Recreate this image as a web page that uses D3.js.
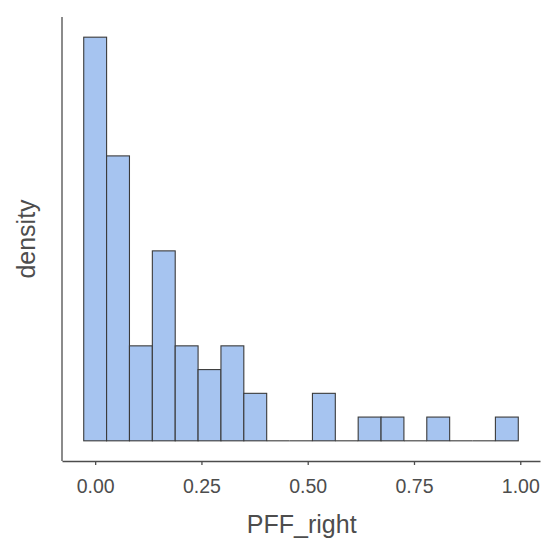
<!DOCTYPE html>
<html>
<head>
<meta charset="utf-8">
<script src="https://cdn.jsdelivr.net/npm/d3@7"></script>
<style>
  body { margin: 0; background: #fff; }
  svg text { font-family: "Liberation Sans", Arial, sans-serif; }
</style>
</head>
<body>
<svg id="drawing_region"></svg>
<script>
// histogram counts per bin
const counts = [17, 12, 4, 8, 4, 3, 4, 2, 0, 0, 2, 0, 1, 1, 0, 1, 0, 0, 1];
const binStart = -0.0269;
const binWidth = 0.0538;
const xTicks = [0, 0.25, 0.5, 0.75, 1.0];
const xTickLabels = ["0.00", "0.25", "0.50", "0.75", "1.00"];

const config = {
    width: 549,
    height: 538,
    margin: {top: 17, right: 9, bottom: 77, left: 62}
};

const bins = counts.map((c, i) => ({
    x0: binStart + i * binWidth,
    x1: binStart + (i + 1) * binWidth,
    count: c
}));

const svg = d3.select('#drawing_region')
    .attr('width', config.width)
    .attr('height', config.height);

const inner_width = config.width - config.margin.left - config.margin.right;
const inner_height = config.height - config.margin.top - config.margin.bottom;

const chart = svg.append('g')
    .attr('transform', `translate(${config.margin.left}, ${config.margin.top})`);

// ggplot-style 5% expansion on both axes
const xmin = bins[0].x0, xmax = bins[bins.length - 1].x1;
const xpad = (xmax - xmin) * 0.05;
const xscale = d3.scaleLinear()
    .domain([xmin - xpad, xmax + xpad])
    .range([0, inner_width]);

const ymax = d3.max(counts);
const yscale = d3.scaleLinear()
    .domain([-ymax * 0.05, ymax * 1.05])
    .range([inner_height, 0]);

// empty bins still show their outline along the baseline
chart.selectAll('line.empty').data(bins.filter(d => d.count === 0)).enter()
    .append('line')
    .attr('class', 'empty')
    .attr('x1', d => xscale(d.x0))
    .attr('x2', d => xscale(d.x1))
    .attr('y1', yscale(0))
    .attr('y2', yscale(0))
    .attr('stroke', '#3a3a3a')
    .attr('stroke-width', 1.1);

chart.selectAll('rect.bar').data(bins.filter(d => d.count > 0)).enter()
    .append('rect')
    .attr('class', 'bar')
    .attr('x', d => xscale(d.x0))
    .attr('y', d => yscale(d.count))
    .attr('width', d => xscale(d.x1) - xscale(d.x0))
    .attr('height', d => yscale(0) - yscale(d.count))
    .attr('fill', '#a6c4f0')
    .attr('stroke', '#3a3a3a')
    .attr('stroke-width', 1.1);

// x axis
const xaxis = d3.axisBottom(xscale)
    .tickValues(xTicks)
    .tickFormat((d, i) => xTickLabels[i])
    .tickSize(4)
    .tickSizeOuter(0);

const xaxis_group = chart.append('g')
    .attr('transform', `translate(0, ${inner_height})`)
    .call(xaxis);
xaxis_group.select('.domain')
    .attr('stroke', '#4d4d4d')
    .attr('stroke-width', 1.3);
xaxis_group.selectAll('.tick line')
    .attr('stroke', '#4d4d4d')
    .attr('stroke-width', 1.3);
xaxis_group.selectAll('.tick text')
    .attr('y', 31.5)
    .attr('dy', null)
    .attr('fill', '#4d4d4d')
    .attr('font-size', '19.5px')
    .style('font-family', '"Liberation Sans", Arial, sans-serif');

// y axis: line only
chart.append('line')
    .attr('x1', 0).attr('x2', 0)
    .attr('y1', 0).attr('y2', inner_height)
    .attr('stroke', '#4d4d4d')
    .attr('stroke-width', 1.3);

// labels
svg.append('text')
    .attr('x', config.margin.left + xscale(0.5) - 6)
    .attr('y', 533)
    .attr('text-anchor', 'middle')
    .attr('font-size', '25px')
    .attr('fill', '#4d4d4d')
    .text('PFF_right');

svg.append('text')
    .attr('transform', `translate(35, ${config.margin.top + 222}) rotate(-90)`)
    .attr('text-anchor', 'middle')
    .attr('font-size', '25px')
    .attr('fill', '#4d4d4d')
    .text('density');
</script>
</body>
</html>
